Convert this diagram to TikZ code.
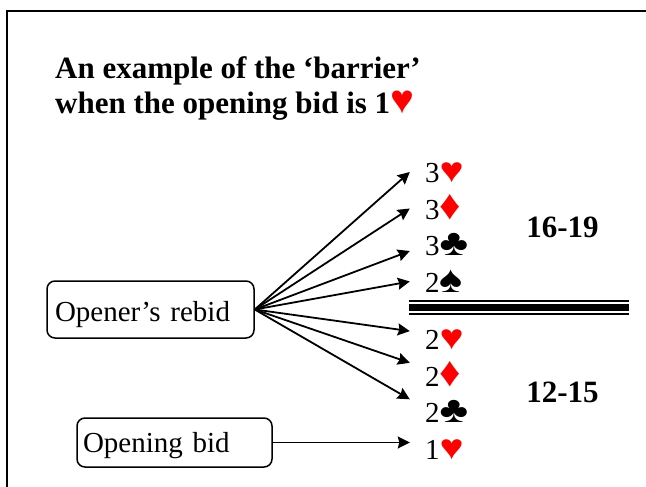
\documentclass[tikz,border=0pt]{standalone}
\usepackage{fontspec}
\usepackage{graphicx}
\setmainfont{Liberation Serif}
\usetikzlibrary{positioning,arrows.meta}
\newcommand\Hrt{{\color{red}\scalebox{1.4}[1.22]{♥}}}
\newcommand\Dmd{{\color{red}\scalebox{1.45}[1.45]{♦}}}
\newcommand\Clb{\scalebox{1.5}[1.28]{♣}}
\newcommand\Spd{\scalebox{1.5}[1.3]{♠}}
\begin{document}
\begin{tikzpicture}[x=1pt, y=-1pt, >={Stealth[length=12pt,width=12pt,inset=1.5pt]},
    every node/.style = {font=\fontsize{29pt}{35pt}\selectfont},
    box/.style = {draw, line width=1.5pt, rounded corners=8pt, align=left},
    bid/.style = {inner xsep=15pt, inner ysep=2pt, text width=38pt, align=left, text height=21pt, text depth=0pt},
    big/.style = {font=\fontsize{31pt}{35pt}\selectfont\bfseries},
    node distance=36.5pt]
        \useasboundingbox (0,0) rectangle (646,487);
        \draw[line width=1.8pt] (7,490) -- (7,11.3) -- (650,11.3);
        \node[big, anchor=north west, inner sep=0pt, align=left] (title) at (55,56) {An example of the ‘barrier’\\when the opening bid is 1{\color{red}\smash{\scalebox{1.3}{♥}}}};
        %
        \node[box, text width=191pt, inner xsep=8pt, minimum height=57pt, text height=24pt, text depth=0pt] (rebid) at (150.5,309.5) {Opener’s rebid};
        \node[box, text width=183pt, inner xsep=6pt, minimum height=49pt, text height=20pt, text depth=0pt] (open) at (174.5,442.5) {Opening bid};
        %
        \node[bid] (3h) at (444,172) {3\Hrt};
        \node[bid] (3d) [below of=3h] {3\Dmd};
        \node[bid] (3c) [below of=3d] {3\Clb};
        \node[bid] (2s) [below of=3c] {2\Spd};
        \node[bid] (2h) at (444,339) {2\Hrt};
        \node[bid] (2d) [below of=2h] {2\Dmd};
        \node[bid] (2c) [below of=2d] {2\Clb};
        \node[bid] (1h) [below of=2c] {1\Hrt};
        %
        \node[big] (hi) at (562.5,227.5) {16-19};
        \node[big] (lo) at (562.5,392.5) {12-15};
        %
        \coordinate (bl) at (409,307.5);
        \coordinate (br) at (629,307.5);
        \draw[line width=15pt] (bl) -- (br);
        \draw[line width=11.6pt, white] (bl) -- (br);
        \draw[line width=7.7pt] (bl) -- (br);
        %
        \draw[->, line width=1.8pt] (rebid.east) -- (3h.west);
        \draw[->, line width=1.8pt] (rebid.east) -- (3d.west);
        \draw[->, line width=1.8pt] (rebid.east) -- (3c.190);
        \draw[->, line width=1.8pt] (rebid.east) -- (2s.west);
        \draw[->, line width=1.8pt] (rebid.east) -- (2h.167);
        \draw[->, line width=1.8pt] (rebid.east) -- (2d.north west);
        \draw[->, line width=1.8pt] (rebid.east) -- (2c.north west);
        \draw[->, line width=1.8pt] (open.east) -- (open.east -| 1h.west);
      \end{tikzpicture}
\end{document}
